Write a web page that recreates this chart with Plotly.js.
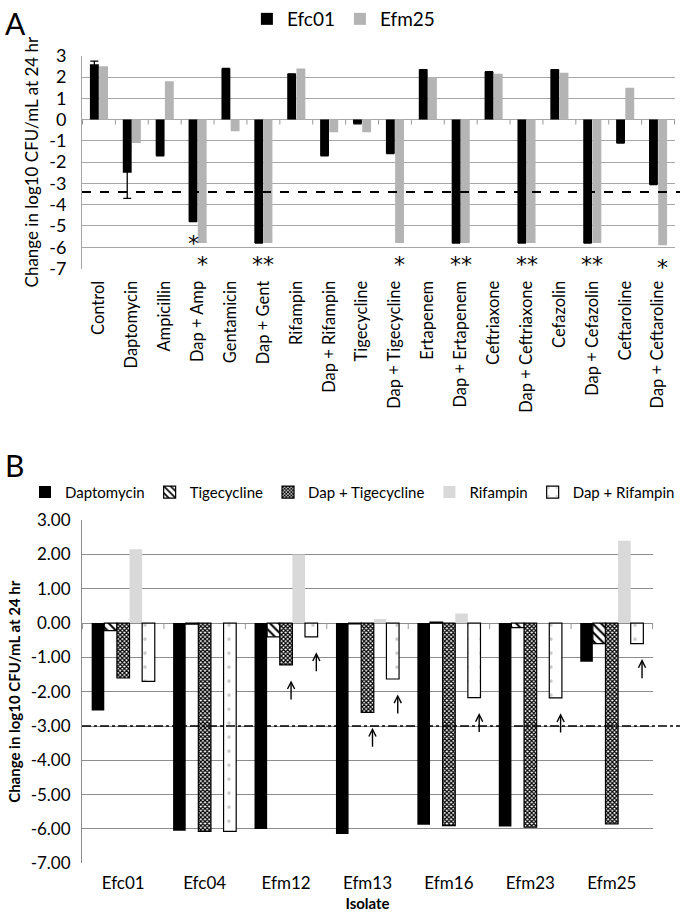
<!DOCTYPE html>
<html><head><meta charset="utf-8">
<script src="https://cdn.plot.ly/plotly-3.0.1.min.js"></script>
<style>html,body{margin:0;padding:0;background:#fff}#chart{width:680px;height:912px}</style>
</head><body><div id="chart"></div>
<script>
// ---------- Panel A data ----------
const categoriesA = ['Control','Daptomycin','Ampicillin','Dap + Amp','Gentamicin','Dap + Gent','Rifampin','Dap + Rifampin','Tigecycline','Dap + Tigecycline','Ertapenem','Dap + Ertapenem','Ceftriaxone','Dap + Ceftriaxone','Cefazolin','Dap + Cefazolin','Ceftaroline','Dap + Ceftaroline'];
const efc01 = [2.6,-2.5,-1.7,-4.8,2.4,-5.8,2.15,-1.7,-0.2,-1.6,2.35,-5.8,2.25,-5.8,2.35,-5.8,-1.1,-3.05];
const efm25 = [2.5,-1.1,1.8,-5.8,-0.55,-5.8,2.4,-0.6,-0.6,-5.8,2.0,-5.8,2.15,-5.8,2.2,-5.8,1.5,-5.9];
const efc01Err = [0.15,1.2,null,null,null,null,null,null,null,null,null,null,null,null,null,null,null,null];
const thresholdA = -3.4;
const tickValsA = [3,2,1,0,-1,-2,-3,-4,-5,-6,-7];
const tickLabelsA = ['3','2','1','0','-1','-2','-3','-4','-5','-6','-7'];
// significance marks: category, which bar ('efc01' | 'efm25' | 'both'), label
const sigCats = ['Dap + Amp','Dap + Amp','Dap + Gent','Dap + Tigecycline','Dap + Ertapenem','Dap + Ceftriaxone','Dap + Cefazolin','Dap + Ceftaroline'];
const sigBars = ['efc01','efm25','both','efm25','both','both','both','efm25'];
const sigLabels = ['*','*','**','*','**','**','**','*'];

// ---------- Panel B data ----------
const isolates = ['Efc01','Efc04','Efm12','Efm13','Efm16','Efm23','Efm25'];
const seriesNamesB = ['Daptomycin','Tigecycline','Dap + Tigecycline','Rifampin','Dap + Rifampin'];
const daptomycin = [-2.55,-6.05,-6.0,-6.15,-5.88,-5.93,-1.13];
const tigecycline = [-0.22,-0.03,-0.4,-0.02,0.03,-0.13,-0.6];
const dapTigecycline = [-1.6,-6.07,-1.22,-2.6,-5.9,-5.95,-5.85];
const rifampin = [2.15,0.0,2.0,0.12,0.28,0.0,2.4];
const dapRifampin = [-1.7,-6.07,-0.4,-1.63,-2.17,-2.18,-0.6];
const thresholdB = -3.0;
const tickValsB = [3,2,1,0,-1,-2,-3,-4,-5,-6,-7];
const tickLabelsB = ['3.00','2.00','1.00','0.00','-1.00','-2.00','-3.00','-4.00','-5.00','-6.00','-7.00'];
// up-arrows: isolate and series index
const arrowIsolates = ['Efm12','Efm12','Efm13','Efm13','Efm16','Efm23','Efm25'];
const arrowSeries = [2,4,2,4,4,4,4];

// ---------- build ----------
const FONT = 'Lato, "Open Sans", sans-serif';
const wA = 0.27, gapA = 0.005;
const traces = [];
traces.push({type:'bar', name:'Efc01', x:categoriesA, y:efc01, xaxis:'x', yaxis:'y', legend:'legend',
  width:wA, offset:-wA-gapA, marker:{color:'#000'},
  error_y:{type:'data', array:efc01Err, visible:true, color:'#000', thickness:1.3, width:4}});
traces.push({type:'bar', name:'Efm25', x:categoriesA, y:efm25, xaxis:'x', yaxis:'y', legend:'legend',
  width:wA, offset:gapA, marker:{color:'#b4b4b4'}});

const valsB = [daptomycin, tigecycline, dapTigecycline, rifampin, dapRifampin];
const markersB = [
  {color:'#000'},
  {color:'#fff', line:{color:'#000', width:1.2}, pattern:{shape:'\\', fgcolor:'#000', bgcolor:'#fff', size:6, solidity:0.35}},
  {color:'#fff', line:{color:'#000', width:1.2}, pattern:{shape:'x', fgcolor:'#000', bgcolor:'#fff', size:3, solidity:0.65}},
  {color:'#d9d9d9'},
  {color:'#fff', line:{color:'#000', width:1.2}, pattern:{shape:'.', fgcolor:'#c8c8c8', bgcolor:'#fff', size:14, solidity:0.05}}
];
const wB = 0.155;
const offB = k => (k - 2.5) * wB;
seriesNamesB.forEach((nm, k) => {
  traces.push({type:'bar', name:nm, x:isolates, y:valsB[k], xaxis:'x2', yaxis:'y2', legend:'legend2',
    width:wB, offset:offB(k), marker:markersB[k]});
});

const shapes = [];
shapes.push({type:'line', xref:'x domain', yref:'y', x0:0, x1:1.01, y0:thresholdA, y1:thresholdA,
  line:{color:'#000', width:2, dash:'dash'}});
shapes.push({type:'line', xref:'x2 domain', yref:'y2', x0:0, x1:1.05, y0:thresholdB, y1:thresholdB,
  line:{color:'#000', width:1.5, dash:'dashdot'}});
for (let i = 0; i <= categoriesA.length; i++) {
  shapes.push({type:'line', xref:'x', yref:'y', ysizemode:'pixel', yanchor:0, x0:i-0.5, x1:i-0.5, y0:0, y1:-5,
    line:{color:'#999', width:1}});
}
for (let i = 0; i <= isolates.length; i++) {
  shapes.push({type:'line', xref:'x2', yref:'y2', ysizemode:'pixel', yanchor:0, x0:i-0.5, x1:i-0.5, y0:0, y1:-6,
    line:{color:'#999', width:1}});
}

const annotations = [];
annotations.push({xref:'paper', yref:'paper', x:0.005, y:1-18/912, text:'A', showarrow:false, xanchor:'left', yanchor:'middle', font:{size:30, family:FONT}});
annotations.push({xref:'paper', yref:'paper', x:0.005, y:1-463/912, text:'B', showarrow:false, xanchor:'left', yanchor:'middle', font:{size:30, family:FONT}});
sigCats.forEach((c, j) => {
  const i = categoriesA.indexOf(c);
  let x = i, yv;
  if (sigBars[j] === 'efc01') { x = i - wA/2 - gapA; yv = efc01[i]; }
  else if (sigBars[j] === 'efm25') { x = i + wA/2 + gapA; yv = efm25[i]; }
  else { yv = Math.min(efc01[i], efm25[i]); }
  annotations.push({xref:'x', yref:'y', x:x, y:yv - 0.75, text:sigLabels[j], showarrow:false,
    xanchor:'center', yanchor:'middle', yshift:-6, font:{size:22, family:'"DejaVu Sans", sans-serif', color:'#000'}});
});
arrowIsolates.forEach((iso, j) => {
  const i = isolates.indexOf(iso);
  const k = arrowSeries[j];
  const x = i + offB(k) + wB/2;
  const tip = valsB[k][i] - 0.45;
  annotations.push({xref:'x2', yref:'y2', axref:'x2', ayref:'y2', x:x, y:tip, ax:x, ay:tip - 0.6,
    text:'', showarrow:true, arrowhead:5, arrowsize:1, arrowwidth:1.4, arrowcolor:'#000', xshift:5});
});

const layout = {
  width:680, height:912, margin:{l:0, r:0, t:0, b:0},
  paper_bgcolor:'#fff', plot_bgcolor:'#fff',
  font:{family:FONT, color:'#000', size:16},
  barmode:'group', showlegend:true,
  xaxis:{domain:[82/680, 675/680], anchor:'y', type:'category', tickangle:-90, ticks:'', showgrid:false,
    showline:false, zeroline:false, tickfont:{size:16.5}, ticklabelstandoff:8, automargin:false},
  yaxis:{domain:[1-265/912, 1-51/912], anchor:'x', range:[-7,3], tickvals:tickValsA, ticktext:tickLabelsA,
    showgrid:true, gridcolor:'#a6a6a6', gridwidth:1, showline:true, linecolor:'#a6a6a6', linewidth:1,
    zeroline:true, zerolinecolor:'#a6a6a6', zerolinewidth:1, ticks:'', tickfont:{size:18}, ticklabelstandoff:11,
    title:{text:'Change in log10 CFU/mL at 24 hr', font:{size:17}, standoff:6}, automargin:false},
  xaxis2:{domain:[82/680, 653/680], anchor:'y2', type:'category', ticks:'', showgrid:false, showline:false,
    zeroline:false, tickfont:{size:17}, ticklabelstandoff:8, automargin:false,
    title:{text:'<b>Isolate</b>', font:{size:15}, standoff:8}},
  yaxis2:{domain:[1-863/912, 1-518/912], anchor:'x2', range:[-7,3], tickvals:tickValsB, ticktext:tickLabelsB,
    showgrid:true, gridcolor:'#8c8c8c', gridwidth:1, showline:true, linecolor:'#8c8c8c', linewidth:1,
    zeroline:true, zerolinecolor:'#8c8c8c', zerolinewidth:1, ticks:'', tickfont:{size:17}, ticklabelstandoff:7,
    title:{text:'<b>Change in log10 CFU/mL at 24 hr</b>', font:{size:15}, standoff:6}, automargin:false},
  legend:{orientation:'h', x:0.505, xanchor:'center', y:1-14/912, yanchor:'middle', font:{size:19},
    bgcolor:'rgba(0,0,0,0)', itemwidth:30, traceorder:'normal'},
  legend2:{orientation:'h', x:0.52, xanchor:'center', y:1-490/912, yanchor:'middle', font:{size:15},
    bgcolor:'rgba(0,0,0,0)', itemwidth:30, traceorder:'normal'},
  shapes:shapes, annotations:annotations
};
Plotly.newPlot('chart', traces, layout, {displayModeBar:false, staticPlot:true});
</script></body></html>
